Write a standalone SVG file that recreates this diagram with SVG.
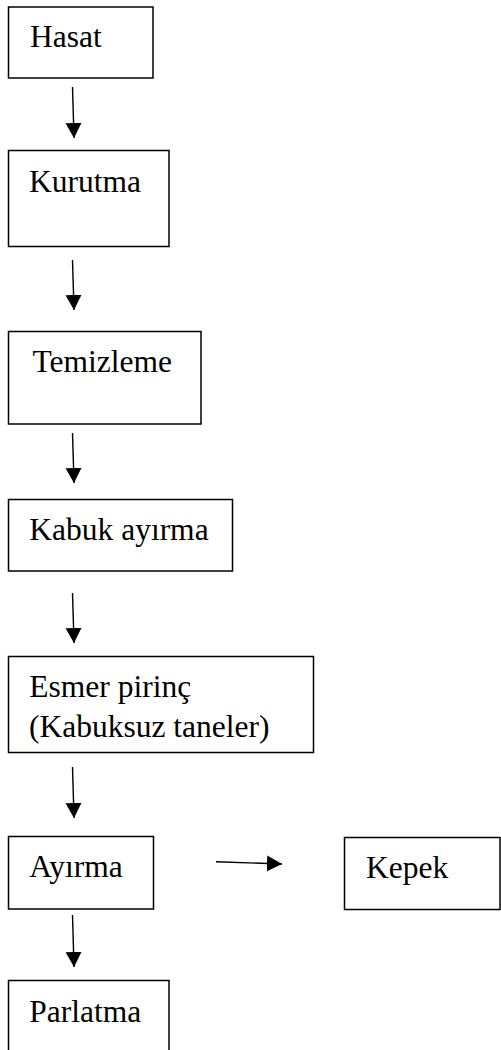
<svg xmlns="http://www.w3.org/2000/svg" width="501" height="1050" viewBox="0 0 501 1050">
<style>
.box{fill:#fff;stroke:#000;stroke-width:1.5}
.lbl{font-family:"Liberation Serif","Times New Roman",serif;font-size:31.5px;fill:#000}
.conn{stroke:#000;stroke-width:1.4;fill:none}
</style>
<defs>
<marker id="ah" markerUnits="userSpaceOnUse" markerWidth="16" markerHeight="17" refX="15" refY="8" orient="auto" viewBox="0 0 16 17">
<path d="M0,0 L15,8 L0,16 z" fill="#000"/>
</marker>
</defs>
<rect width="501" height="1050" fill="#fff"/>
<g id="connectors">
<line class="conn" x1="72.5" y1="87" x2="74" y2="138" marker-end="url(#ah)"/>
<line class="conn" x1="72.5" y1="260" x2="74" y2="310" marker-end="url(#ah)"/>
<line class="conn" x1="72.5" y1="433" x2="74" y2="483" marker-end="url(#ah)"/>
<line class="conn" x1="72.5" y1="593" x2="74" y2="643" marker-end="url(#ah)"/>
<line class="conn" x1="72.5" y1="767" x2="74" y2="818" marker-end="url(#ah)"/>
<line class="conn" x1="72.5" y1="915" x2="74" y2="967" marker-end="url(#ah)"/>
<line class="conn" x1="216" y1="861.7" x2="282" y2="864" marker-end="url(#ah)"/>
</g>
<g id="hasat"><rect class="box" x="8.5" y="7" width="144.5" height="71"/><text class="lbl" x="30" y="47">Hasat</text></g>
<g id="kurutma"><rect class="box" x="8.5" y="150.5" width="160.5" height="96"/><text class="lbl" x="29" y="191.5">Kurutma</text></g>
<g id="temizleme"><rect class="box" x="8.5" y="331.5" width="192.5" height="92.5"/><text class="lbl" x="32.5" y="372">Temizleme</text></g>
<g id="kabuk-ayirma"><rect class="box" x="8.5" y="499.5" width="224" height="71.5"/><text class="lbl" x="29.3" y="540">Kabuk ayırma</text></g>
<g id="esmer-pirinc"><rect class="box" x="8.5" y="656.5" width="305" height="96"/><text class="lbl" x="29.3" y="696.5">Esmer pirinç</text><text class="lbl" x="29" y="736.5">(Kabuksuz taneler)</text></g>
<g id="ayirma"><rect class="box" x="8.5" y="836.5" width="145" height="72.5"/><text class="lbl" x="29.3" y="876.5">Ayırma</text></g>
<g id="kepek"><rect class="box" x="344.5" y="837.5" width="155.5" height="72"/><text class="lbl" x="366" y="878">Kepek</text></g>
<g id="parlatma"><rect class="box" x="8.5" y="980.5" width="160.5" height="100"/><text class="lbl" x="29.3" y="1021.5">Parlatma</text></g>
</svg>
